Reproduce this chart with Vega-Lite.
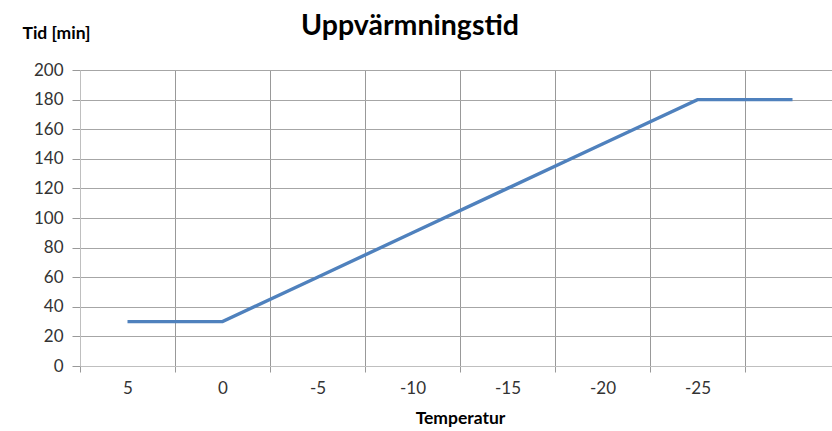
{
  "$schema": "https://vega.github.io/schema/vega-lite/v6.json",
  "autosize": "none",
  "padding": {"left": 80, "top": 70, "right": 0, "bottom": 65},
  "width": 752,
  "height": 296,
  "background": "white",
  "title": {
    "text": "Uppvärmningstid",
    "font": "Lato",
    "fontSize": 28.5,
    "fontWeight": "bold",
    "color": "#000000",
    "anchor": "middle",
    "baseline": "alphabetic",
    "dx": -46,
    "offset": 0,
    "dy": 39
  },
  "data": {
    "values": [
      {"temp": "5", "tid": 30},
      {"temp": "0", "tid": 30},
      {"temp": "-5", "tid": 60},
      {"temp": "-10", "tid": 90},
      {"temp": "-15", "tid": 120},
      {"temp": "-20", "tid": 150},
      {"temp": "-25", "tid": 180},
      {"temp": "-30", "tid": 180}
    ]
  },
  "mark": {"type": "line", "color": "#4f81bd", "strokeWidth": 3.4, "clip": false},
  "encoding": {
    "x": {
      "field": "temp",
      "type": "ordinal",
      "sort": null,
      "scale": {"type": "band", "paddingInner": 0, "paddingOuter": 0, "range": [0, 760]},
      "axis": {
        "title": "Temperatur",
        "titleFont": "Lato",
        "titleFontSize": 17.5,
        "titleFontWeight": "bold",
        "titleColor": "#000000",
        "titleBaseline": "middle",
        "titleY": 52,
        "labelAngle": 0,
        "labelFont": "Lato",
        "labelFontSize": 17,
        "labelColor": "#333333",
        "labelPadding": 8,
        "labelExpr": "datum.label == '-30' ? '' : datum.label",
        "tickBand": "extent",
        "tickSize": 6,
        "tickColor": "#999999",
        "domainColor": "#bfbfbf",
        "grid": true,
        "gridColor": "#999999",
        "gridWidth": 1
      }
    },
    "y": {
      "field": "tid",
      "type": "quantitative",
      "scale": {"domain": [0, 200], "nice": false},
      "axis": {
        "title": "Tid [min]",
        "titleAngle": 0,
        "titleAlign": "left",
        "titleBaseline": "middle",
        "titleX": -58,
        "titleY": -37,
        "titleFont": "Lato",
        "titleFontSize": 17.5,
        "titleFontWeight": "bold",
        "titleColor": "#000000",
        "values": [0, 20, 40, 60, 80, 100, 120, 140, 160, 180, 200],
        "labelFont": "Lato",
        "labelFontSize": 17,
        "labelColor": "#333333",
        "labelPadding": 9,
        "tickSize": 8,
        "tickColor": "#999999",
        "domainColor": "#bfbfbf",
        "grid": true,
        "gridColor": "#a6a6a6",
        "gridWidth": 1
      }
    }
  },
  "config": {"view": {"stroke": null}}
}
